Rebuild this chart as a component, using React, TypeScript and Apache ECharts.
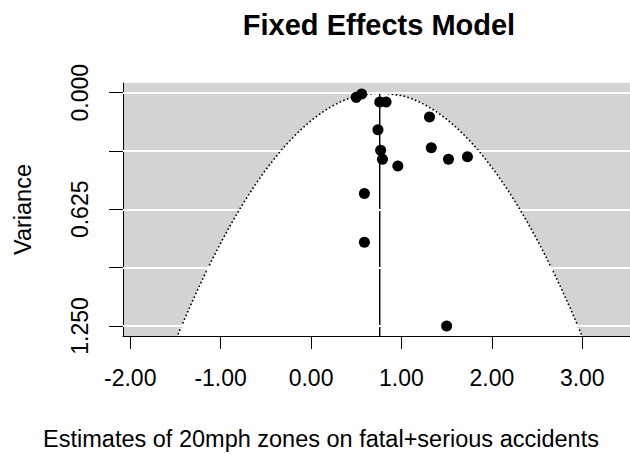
import React, { useEffect, useRef } from "react";
import * as echarts from "echarts";

// Study estimates (log ratio) and their variances
const estimates = [0.50, 0.56, 0.76, 0.83, 1.31, 0.74, 1.33, 0.77, 0.79, 1.52, 1.73, 0.96, 0.59, 0.59, 1.50];
const variances = [0.025, 0.007, 0.050, 0.050, 0.130, 0.198, 0.295, 0.309, 0.357, 0.357, 0.343, 0.393, 0.540, 0.801, 1.250];
// Pooled fixed-effects estimate
const pooled = 0.76;
// Axis ticks
const xTicks = [-2, -1, 0, 1, 2, 3];
const yTicks = [0, 0.3125, 0.625, 0.9375, 1.25];
const yLabels = [0, 0.625, 1.25];
const xMin = -2.08;
const xMax = 3.528;
const yMin = -0.052;
const yMax = 1.304;

const FONT = "'Liberation Sans', Arial, sans-serif";

export default function App() {
  const ref = useRef<HTMLDivElement>(null);
  useEffect(() => {
    document.body.style.margin = "0";
    if (!ref.current) return;
    const chart = echarts.init(ref.current, null, { renderer: "svg" });

    // funnel bounds: pooled ± 1.96*sqrt(v)
    const vs: number[] = [];
    const steps = 80;
    for (let i = 0; i <= steps; i++) vs.push((yMax * i) / steps);
    const leftBound = vs.map((v) => [pooled - 1.96 * Math.sqrt(v), v]);
    const rightBound = vs.map((v) => [pooled + 1.96 * Math.sqrt(v), v]);

    chart.setOption({
      animation: false,
      backgroundColor: "#ffffff",
      title: {
        text: "Fixed Effects Model",
        left: 379,
        top: 10,
        padding: 0,
        textAlign: "center",
        textStyle: { fontFamily: FONT, fontSize: 29, fontWeight: "bold", color: "#000" },
      },
      grid: {
        left: 123,
        top: 83,
        right: 0,
        bottom: 119,
        show: true,
        backgroundColor: "#d3d3d3",
        borderWidth: 0,
        containLabel: false,
      },
      xAxis: {
        type: "value",
        min: xMin,
        max: xMax,
        axisLine: { show: true, onZero: false, lineStyle: { color: "#000", width: 1 } },
        axisTick: { show: true, length: 13, customValues: xTicks, lineStyle: { color: "#000", width: 1 } },
        axisLabel: {
          customValues: xTicks,
          margin: 30,
          fontFamily: FONT,
          fontSize: 23,
          color: "#000",
          formatter: (v: number) => v.toFixed(2),
        },
        splitLine: { show: false },
      },
      yAxis: {
        type: "value",
        inverse: true,
        min: yMin,
        max: yMax,
        name: "Variance",
        nameLocation: "middle",
        nameRotate: 90,
        nameGap: 88,
        nameTextStyle: { fontFamily: FONT, fontSize: 23.5, color: "#000" },
        axisLine: { show: true, onZero: false, lineStyle: { color: "#000", width: 1 } },
        axisTick: { show: true, length: 14, customValues: yTicks, lineStyle: { color: "#000", width: 1 } },
        axisLabel: {
          customValues: yLabels,
          rotate: 90,
          margin: 32,
          fontFamily: FONT,
          fontSize: 23,
          color: "#000",
          formatter: (v: number) => v.toFixed(3),
        },
        splitLine: { show: false },
      },
      graphic: [
        {
          type: "text",
          x: 321,
          y: 439,
          style: {
            text: "Estimates of 20mph zones on fatal+serious accidents",
            fontFamily: FONT,
            fontSize: 23.5,
            fill: "#000",
            align: "center",
            verticalAlign: "middle",
          },
        },
      ],
      series: [
        {
          type: "line",
          data: [],
          z: 1,
          silent: true,
          markLine: {
            silent: true,
            symbol: "none",
            label: { show: false },
            lineStyle: { color: "#ffffff", width: 2, type: "solid" },
            data: yTicks.map((v) => ({ yAxis: v })),
          },
        },
        {
          type: "custom",
          z: 2,
          silent: true,
          data: [0],
          renderItem: (_params: any, api: any) => {
            const pts = leftBound
              .concat(rightBound.slice().reverse())
              .map((p) => api.coord(p));
            return {
              type: "polygon",
              shape: { points: pts },
              style: { fill: "#ffffff", stroke: "none" },
            };
          },
        },
        {
          type: "line",
          z: 3,
          data: leftBound,
          showSymbol: false,
          symbol: "none",
          lineStyle: { color: "#000", width: 1.6, type: [1.6, 2.4] },
        },
        {
          type: "line",
          z: 3,
          data: rightBound,
          showSymbol: false,
          symbol: "none",
          lineStyle: { color: "#000", width: 1.6, type: [1.6, 2.4] },
        },
        {
          type: "line",
          z: 4,
          data: [
            [pooled, 0],
            [pooled, yMax],
          ],
          showSymbol: false,
          symbol: "none",
          lineStyle: { color: "#000", width: 1.4 },
        },
        {
          type: "scatter",
          z: 5,
          symbol: "circle",
          symbolSize: 11,
          itemStyle: { color: "#000", opacity: 1 },
          data: estimates.map((e, i) => [e, variances[i]]),
        },
      ],
    });
    return () => chart.dispose();
  }, []);
  return <div ref={ref} style={{ width: 630, height: 455 }} />;
}
